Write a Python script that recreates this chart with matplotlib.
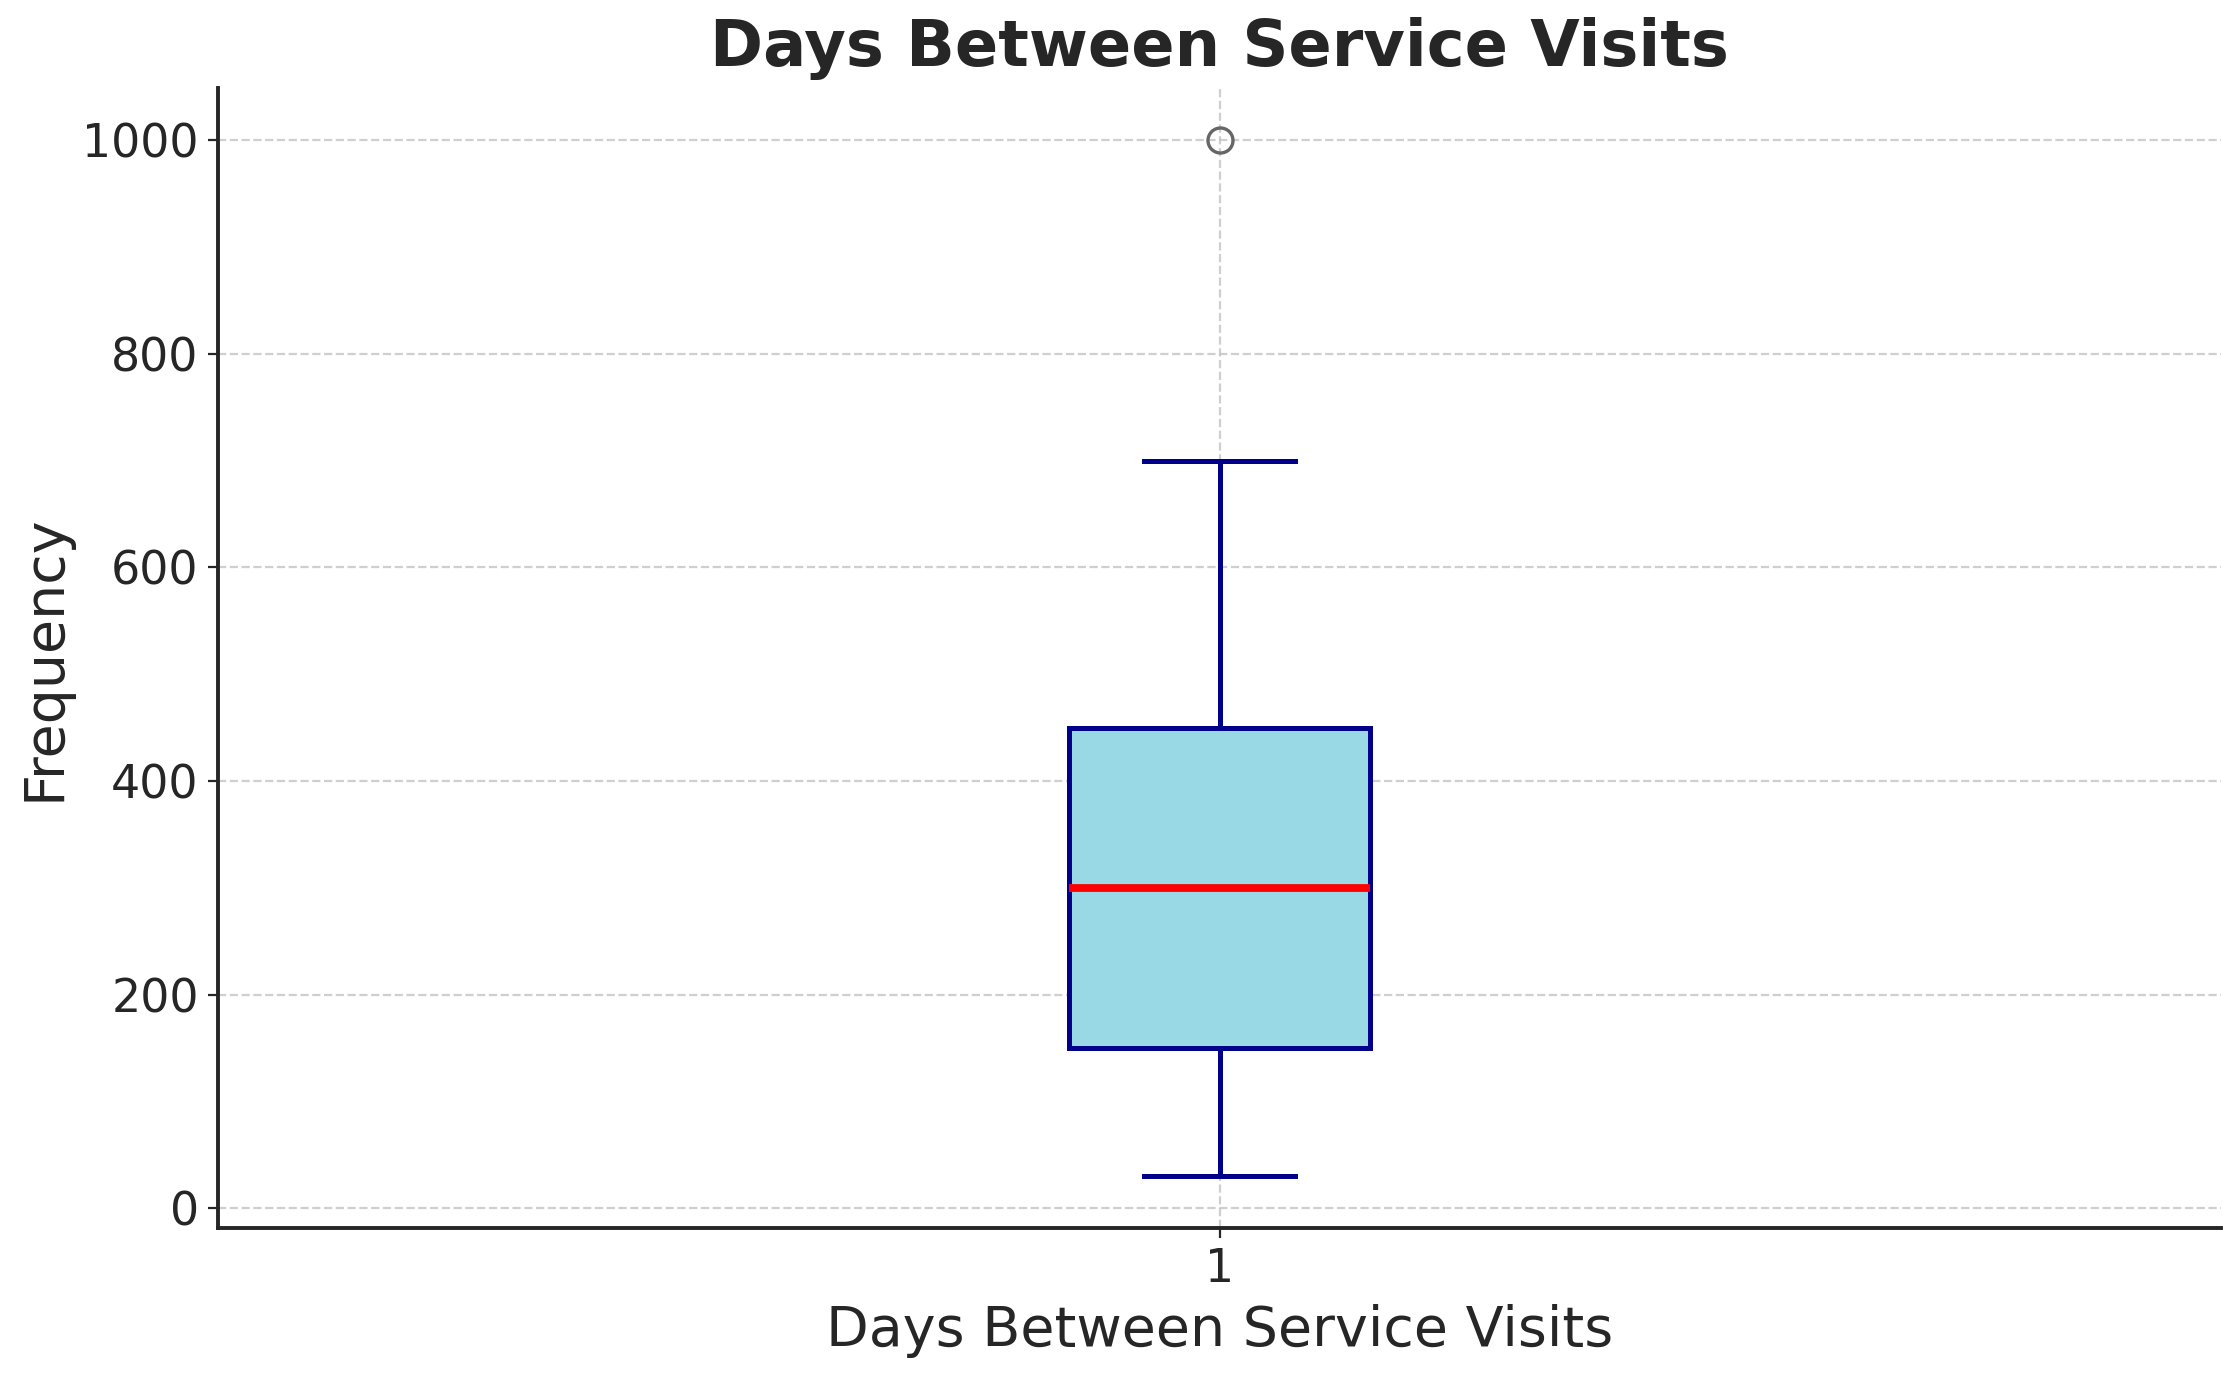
import matplotlib.pyplot as plt

# box statistics
label = '1'
whisker_low = 30
q1 = 150
median = 300
q3 = 450
whisker_high = 700
outliers = [1000]

stats = [{
    'label': label,
    'whislo': whisker_low,
    'q1': q1,
    'med': median,
    'q3': q3,
    'whishi': whisker_high,
    'fliers': outliers,
}]

plt.rcParams['text.color'] = '#262626'
plt.rcParams['axes.labelcolor'] = '#262626'
plt.rcParams['xtick.color'] = '#262626'
plt.rcParams['ytick.color'] = '#262626'

fig = plt.figure(figsize=(11.195, 6.895), dpi=200)
ax = fig.add_axes([0.0974, 0.1095, 0.8946, 0.8265])

ax.bxp(stats, patch_artist=True, widths=0.15,
       boxprops=dict(facecolor='#99D9E6', edgecolor='darkblue', linewidth=1.8),
       medianprops=dict(color='red', linewidth=2.8),
       whiskerprops=dict(color='darkblue', linewidth=1.8),
       capprops=dict(color='darkblue', linewidth=1.8),
       flierprops=dict(marker='o', markerfacecolor='none', markeredgecolor='#666666',
                       markersize=9, markeredgewidth=1.2))

ax.set_title('Days Between Service Visits', fontsize=23, fontweight='bold', pad=8)
ax.set_xlabel('Days Between Service Visits', fontsize=20, labelpad=4)
ax.set_ylabel('Frequency', fontsize=20)
ax.tick_params(labelsize=16.5)
ax.grid(True, linestyle='--', color='#C4C4C4', linewidth=0.8, alpha=0.8)
ax.set_axisbelow(True)
ax.spines['top'].set_visible(False)
ax.spines['right'].set_visible(False)
ax.spines['left'].set_linewidth(1.4)
ax.spines['bottom'].set_linewidth(1.4)
ax.spines['left'].set_color('#262626')
ax.spines['bottom'].set_color('#262626')

fig.savefig('out.png', dpi=200)
